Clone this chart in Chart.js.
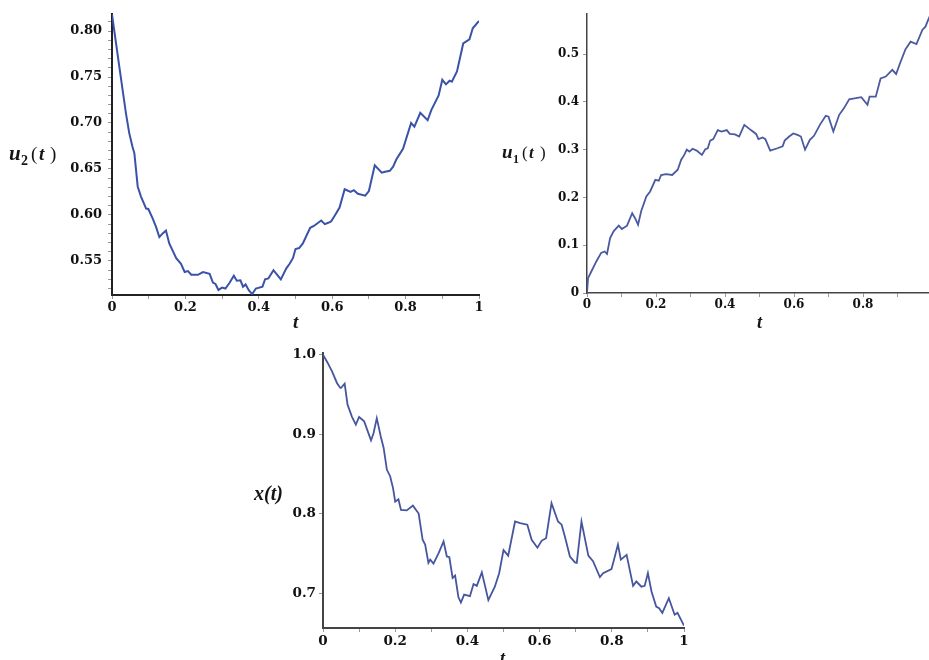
<!DOCTYPE html>
<html>
<head>
<meta charset="utf-8">
<script src="https://cdn.jsdelivr.net/npm/chart.js@4.4.1/dist/chart.umd.min.js"></script>
<style>
html, body { margin: 0; padding: 0; background: #fff; overflow: hidden; width: 929px; height: 660px; }
canvas { position: absolute; }
#c1 { left: 0; top: 0; }
#c2 { left: 495px; top: 0; }
#c3 { left: 240px; top: 340px; }
</style>
</head>
<body>
<canvas id="c1" width="495" height="330"></canvas>
<canvas id="c2" width="450" height="330"></canvas>
<canvas id="c3" width="460" height="320"></canvas>
<script>
"use strict";
// u2(t), top left
const tU2 = [0, 0.02, 0.038, 0.047, 0.056, 0.061, 0.07, 0.079, 0.093, 0.099, 0.111, 0.12, 0.129, 0.138, 0.147, 0.156, 0.175, 0.188, 0.198, 0.207, 0.216, 0.234, 0.248, 0.266, 0.275, 0.282, 0.29, 0.3, 0.309, 0.32, 0.332, 0.34, 0.35, 0.357, 0.364, 0.373, 0.382, 0.392, 0.41, 0.417, 0.426, 0.44, 0.46, 0.475, 0.484, 0.493, 0.5, 0.51, 0.52, 0.54, 0.55, 0.56, 0.57, 0.58, 0.589, 0.597, 0.608, 0.62, 0.634, 0.65, 0.659, 0.67, 0.69, 0.7, 0.716, 0.735, 0.744, 0.757, 0.766, 0.775, 0.793, 0.815, 0.824, 0.84, 0.86, 0.87, 0.89, 0.9, 0.91, 0.92, 0.926, 0.94, 0.957, 0.974, 0.983, 1];
const u2 = [0.818, 0.761, 0.7105, 0.689, 0.674, 0.667, 0.631, 0.62, 0.607, 0.6065, 0.596, 0.587, 0.576, 0.58, 0.583, 0.569, 0.553, 0.547, 0.538, 0.539, 0.535, 0.535, 0.538, 0.536, 0.5265, 0.525, 0.5185, 0.521, 0.52, 0.526, 0.534, 0.5285, 0.529, 0.522, 0.5245, 0.518, 0.514, 0.52, 0.522, 0.53, 0.531, 0.54, 0.53, 0.542, 0.547, 0.553, 0.563, 0.564, 0.569, 0.586, 0.588, 0.591, 0.594, 0.59, 0.5915, 0.593, 0.6, 0.608, 0.628, 0.625, 0.627, 0.623, 0.621, 0.626, 0.654, 0.646, 0.647, 0.648, 0.6525, 0.6605, 0.672, 0.7, 0.696, 0.711, 0.703, 0.714, 0.73, 0.747, 0.742, 0.746, 0.745, 0.756, 0.7865, 0.791, 0.803, 0.811];
const yLabelsU2 = ["0.55", "0.60", "0.65", "0.70", "0.75", "0.80"];
const yValsU2 = [0.55, 0.60, 0.65, 0.70, 0.75, 0.80];

// u1(t), top right
const tU1 = [0, 0.003, 0.0125, 0.027, 0.041, 0.051, 0.058, 0.067, 0.077, 0.092, 0.101, 0.116, 0.131, 0.139, 0.148, 0.157, 0.172, 0.183, 0.198, 0.208, 0.215, 0.229, 0.247, 0.263, 0.273, 0.282, 0.289, 0.297, 0.306, 0.318, 0.333, 0.343, 0.35, 0.357, 0.366, 0.379, 0.39, 0.405, 0.414, 0.429, 0.441, 0.456, 0.475, 0.49, 0.497, 0.509, 0.517, 0.531, 0.552, 0.567, 0.573, 0.586, 0.598, 0.61, 0.62, 0.632, 0.646, 0.658, 0.675, 0.692, 0.7, 0.714, 0.731, 0.745, 0.76, 0.779, 0.795, 0.813, 0.819, 0.837, 0.851, 0.866, 0.885, 0.896, 0.909, 0.923, 0.938, 0.955, 0.972, 0.981, 0.988, 1];
const u1 = [0, 0.031, 0.045, 0.066, 0.084, 0.087, 0.082, 0.115, 0.129, 0.141, 0.134, 0.141, 0.167, 0.157, 0.143, 0.171, 0.202, 0.2125, 0.237, 0.235, 0.247, 0.249, 0.247, 0.258, 0.279, 0.289, 0.3, 0.296, 0.302, 0.298, 0.289, 0.301, 0.303, 0.319, 0.322, 0.341, 0.338, 0.341, 0.333, 0.332, 0.3275, 0.352, 0.341, 0.333, 0.322, 0.3255, 0.322, 0.298, 0.303, 0.307, 0.319, 0.3275, 0.334, 0.331, 0.3275, 0.3, 0.3205, 0.329, 0.352, 0.371, 0.369, 0.338, 0.373, 0.387, 0.4055, 0.4077, 0.41, 0.394, 0.411, 0.411, 0.449, 0.453, 0.467, 0.4585, 0.484, 0.51, 0.526, 0.521, 0.5505, 0.5575, 0.57, 0.59];
const yLabelsU1 = ["0", "0.1", "0.2", "0.3", "0.4", "0.5"];
const yValsU1 = [0, 0.1, 0.2, 0.3, 0.4, 0.5];

// x(t), bottom
const tX = [0, 0.013, 0.025, 0.039, 0.048, 0.05, 0.06, 0.068, 0.08, 0.091, 0.1, 0.114, 0.133, 0.14, 0.149, 0.16, 0.168, 0.177, 0.186, 0.194, 0.2, 0.209, 0.216, 0.232, 0.249, 0.265, 0.276, 0.283, 0.292, 0.297, 0.306, 0.32, 0.334, 0.343, 0.35, 0.359, 0.366, 0.375, 0.382, 0.391, 0.407, 0.417, 0.426, 0.44, 0.458, 0.476, 0.488, 0.5, 0.513, 0.532, 0.546, 0.566, 0.578, 0.594, 0.606, 0.618, 0.633, 0.651, 0.661, 0.67, 0.684, 0.698, 0.703, 0.716, 0.735, 0.748, 0.767, 0.776, 0.799, 0.805, 0.817, 0.825, 0.841, 0.859, 0.868, 0.882, 0.891, 0.9, 0.91, 0.923, 0.931, 0.94, 0.958, 0.974, 0.982, 1];
const xVals = [1.0, 0.9895, 0.979, 0.964, 0.958, 0.958, 0.9635, 0.937, 0.922, 0.912, 0.9215, 0.916, 0.892, 0.901, 0.92, 0.897, 0.8825, 0.855, 0.847, 0.832, 0.815, 0.818, 0.8045, 0.804, 0.81, 0.8, 0.767, 0.761, 0.738, 0.742, 0.737, 0.75, 0.765, 0.746, 0.745, 0.719, 0.722, 0.695, 0.688, 0.698, 0.696, 0.7113, 0.709, 0.726, 0.691, 0.708, 0.725, 0.754, 0.747, 0.79, 0.788, 0.786, 0.767, 0.757, 0.766, 0.769, 0.813, 0.79, 0.786, 0.771, 0.746, 0.7385, 0.738, 0.79, 0.747, 0.74, 0.72, 0.725, 0.73, 0.74, 0.761, 0.742, 0.748, 0.709, 0.7145, 0.708, 0.709, 0.725, 0.702, 0.683, 0.681, 0.675, 0.6935, 0.6727, 0.675, 0.659];
const yLabelsX = ["0.7", "0.8", "0.9", "1.0"];
const yValsX = [0.7, 0.8, 0.9, 1.0];

const tLabels = ["0", "0.2", "0.4", "0.6", "0.8", "1"];
const tVals = [0, 0.2, 0.4, 0.6, 0.8, 1];

function toPoints(ts, vs) {
    return ts.map((t, i) => ({ x: t, y: vs[i] }));
}
function tickRange(lo, hi, step) {
    const arr = [];
    const n = Math.round((hi - lo) / step);
    for (let i = 0; i <= n; i++) {
        arr.push(Math.round((lo + i * step) * 1e6) / 1e6);
    }
    return arr;
}
function labelFor(vals, labels) {
    return (value) => {
        const i = vals.findIndex(v => Math.abs(v - value) < 1e-6);
        return i >= 0 ? labels[i] : "";
    };
}

// draws the horizontal y titles and the t titles like the Maple plots
const axisTitles = {
    id: "axisTitles",
    afterDraw(chart, args, opts) {
        const c = chart.ctx;
        c.save();
        c.fillStyle = "#151515";
        c.textBaseline = "alphabetic";
        for (const p of opts.parts) {
            c.font = p.font;
            c.fillText(p.text, p.x, p.y);
        }
        c.restore();
    }
};

const serif = '"Liberation Serif"';
const tickFont = '"DejaVu Serif"';

function makeChart(id, cfg) {
    return new Chart(document.getElementById(id), {
        type: "line",
        data: {
            datasets: [{
                data: cfg.points,
                borderColor: cfg.color,
                borderWidth: cfg.lineWidth,
                pointRadius: 0,
                tension: 0,
                fill: false
            }]
        },
        plugins: [axisTitles],
        options: {
            responsive: false,
            devicePixelRatio: 1,
            animation: false,
            layout: { padding: cfg.padding },
            plugins: {
                legend: { display: false },
                tooltip: { enabled: false },
                axisTitles: { parts: cfg.titles }
            },
            scales: {
                x: {
                    type: "linear",
                    min: 0,
                    max: 1,
                    afterFit: (s) => { s.height = cfg.xHeight; },
                    afterBuildTicks: (axis) => axis.ticks = tickRange(0, 1, 0.1).map(v => ({ value: v })),
                    border: { display: true, color: cfg.axisColor, width: cfg.axisWidth },
                    grid: { drawOnChartArea: false, drawTicks: true, tickLength: 4, tickColor: "#999" },
                    ticks: {
                        autoSkip: false,
                        maxRotation: 0,
                        padding: cfg.xPad,
                        color: "#111",
                        font: { family: tickFont, size: cfg.fontSize, weight: "bold" },
                        callback: labelFor(tVals, tLabels)
                    }
                },
                y: {
                    min: cfg.yMin,
                    max: cfg.yMax,
                    afterFit: (s) => { s.width = cfg.yWidth; },
                    afterBuildTicks: (axis) => axis.ticks = cfg.yTicks.map(v => ({ value: v })),
                    border: { display: true, color: cfg.axisColor, width: cfg.axisWidth },
                    grid: { drawOnChartArea: false, drawTicks: true, tickLength: 4, tickColor: "#999" },
                    ticks: {
                        autoSkip: false,
                        padding: cfg.yPad,
                        color: "#111",
                        font: { family: tickFont, size: cfg.fontSize, weight: "bold" },
                        callback: labelFor(cfg.yVals, cfg.yLabels)
                    }
                }
            }
        }
    });
}

makeChart("c1", {
    points: toPoints(tU2, u2),
    color: "#3a52a8",
    lineWidth: 2,
    padding: { left: 0, top: 14, right: 16, bottom: 0 },
    yWidth: 112, xHeight: 35, xPad: 1, yPad: 6, fontSize: 13,
    axisColor: "#222", axisWidth: 2,
    yMin: 0.513, yMax: 0.8185,
    yTicks: tickRange(0.52, 0.81, 0.01),
    yVals: yValsU2, yLabels: yLabelsU2,
    titles: [
        { text: "u", font: "italic bold 21px " + serif, x: 9, y: 160 },
        { text: "2", font: "bold 14px " + serif, x: 21, y: 165 },
        { text: "(", font: "19px " + serif, x: 31, y: 160 },
        { text: "t", font: "italic bold 19px " + serif, x: 39, y: 160 },
        { text: ")", font: "19px " + serif, x: 50, y: 160 },
        { text: "t", font: "italic bold 19px " + serif, x: 293, y: 328 }
    ]
});

makeChart("c2", {
    points: toPoints(tU1, u1),
    color: "#4a5a9f",
    lineWidth: 1.8,
    padding: { left: 0, top: 14, right: 13, bottom: 0 },
    yWidth: 92, xHeight: 37, xPad: 1, yPad: 4, fontSize: 12,
    axisColor: "#444", axisWidth: 1.5,
    yMin: 0, yMax: 0.584,
    yTicks: tickRange(0, 0.5, 0.1),
    yVals: yValsU1, yLabels: yLabelsU1,
    titles: [
        { text: "u", font: "italic bold 19px " + serif, x: 7, y: 158 },
        { text: "1", font: "bold 12px " + serif, x: 18, y: 163 },
        { text: "(", font: "17px " + serif, x: 27, y: 158 },
        { text: "t", font: "italic bold 17px " + serif, x: 34, y: 158 },
        { text: ")", font: "17px " + serif, x: 45, y: 158 },
        { text: "t", font: "italic bold 18px " + serif, x: 262, y: 328 }
    ]
});

makeChart("c3", {
    points: toPoints(tX, xVals),
    color: "#46569e",
    lineWidth: 1.8,
    padding: { left: 0, top: 13, right: 16, bottom: 0 },
    yWidth: 83, xHeight: 32, xPad: 1, yPad: 3, fontSize: 13.5,
    axisColor: "#444", axisWidth: 2,
    yMin: 0.656, yMax: 1.002,
    yTicks: tickRange(0.7, 1.0, 0.1),
    yVals: yValsX, yLabels: yLabelsX,
    titles: [
        { text: "x(t)", font: "italic bold 20px " + serif, x: 14, y: 160 },
        { text: "t", font: "italic bold 18px " + serif, x: 260, y: 324 }
    ]
});
</script>
</body>
</html>
